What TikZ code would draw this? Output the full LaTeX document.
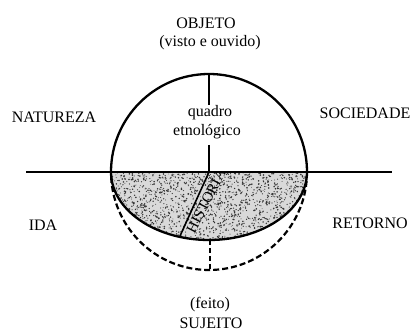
\documentclass[tikz,border=0pt]{standalone}
\usepackage{fontspec}
\setmainfont{Liberation Serif}
\begin{document}
\begin{tikzpicture}[x=1pt,y=1pt,
  lbl/.style={font=\fontsize{16}{18}\selectfont, inner sep=0pt},
  thin line/.style={line width=1.2pt},
  rim/.style={line width=2.3pt},
  dashrim/.style={line width=2.2pt, dash pattern=on 6pt off 3pt}]
\useasboundingbox (0,0) rectangle (411,331);
\coordinate (C) at (209,159);
\coordinate (L) at (26,159);
\coordinate (Rt) at (392,159);
\coordinate (Top) at (209,257);
\coordinate (Q1) at (209,226);
\coordinate (Q2) at (209,186);
\coordinate (Bot) at (210,91);
\coordinate (DBot) at (210,61);
\coordinate (H) at (180,95);
% stipple
\begin{scope}
  \clip (111,159) arc[start angle=180,end angle=360,x radius=98,y radius=68] -- cycle;
  \fill[black!15] (111,159) rectangle (307,91);
  \pgfmathsetseed{17}
  \foreach \i in {1,...,1800}{
    \pgfmathsetmacro{\px}{111+196*rnd}
    \pgfmathsetmacro{\py}{91+68*rnd}
    \pgfmathsetmacro{\pr}{0.4+0.5*rnd}
    \fill[black!80] (\px,\py) circle[radius=\pr];
  }
\end{scope}
% circle parts
\draw[rim] (C) ++(98,0) arc[start angle=0,end angle=180,radius=98];
\draw[rim] (111,159) arc[start angle=180,end angle=360,x radius=98,y radius=68];
\draw[dashrim] (C) ++(183:98) arc[start angle=183,end angle=357,radius=98];
\draw[thin line] (L) -- (Rt);
% quadro etnologico
\node[lbl] (q) at (210,218) {quadro};
\node[lbl] (e) at (207,199) {etnológico};
\draw[thin line] (Top) -- (Q1);
\draw[thin line] (Q2) -- (C);
\draw[thin line, dash pattern=on 5pt off 3pt] (Bot) -- (DBot);
% historia
\draw[line width=1.6pt] (C) -- (H);
\node[lbl, font=\fontsize{15}{17}\selectfont, rotate=63] (hist) at (206,130) {HISTORIA};
% labels
\node[lbl] (obj) at (206,308) {OBJETO};
\node[lbl] (vis) at (210,288) {(visto e ouvido)};
\node[lbl] (nat) at (54,214) {NATUREZA};
\node[lbl] (soc) at (365,218) {SOCIEDADE};
\node[lbl] (ida) at (43,106) {IDA};
\node[lbl] (ret) at (370,108) {RETORNO};
\node[lbl] (fei) at (210,26) {(feito)};
\node[lbl] (suj) at (211,8) {SUJEITO};
\end{tikzpicture}
\end{document}
